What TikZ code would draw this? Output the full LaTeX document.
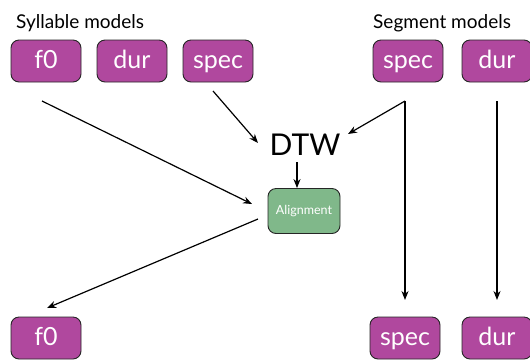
\documentclass[tikz,border=0pt]{standalone}
\usepackage{fontspec}
\setmainfont{Lato}
\usetikzlibrary{arrows.meta}
\definecolor{boxpurple}{RGB}{176,72,158}
\definecolor{boxgreen}{RGB}{128,184,138}
\tikzset{
  x=1pt,y=-1pt,
  mbox/.style={draw=black!85, line width=0.9pt, fill=boxpurple, rounded corners=8pt,
    minimum width=70pt, minimum height=42pt, inner sep=0pt, text=white,
    text height=18pt, text depth=4pt,
    font=\fontsize{25}{25}\selectfont},
  abox/.style={draw=black!85, line width=0.9pt, fill=boxgreen, rounded corners=8pt,
    minimum width=72pt, minimum height=45pt, inner sep=0pt, text=white,
    font=\fontsize{12.5}{12.5}\selectfont},
  title/.style={font=\fontsize{19}{19}\selectfont, inner sep=0pt, anchor=base west},
  arr/.style={-{Stealth[length=9pt,width=7pt]}, line width=1.2pt}
}
\begin{document}
\begin{tikzpicture}
\useasboundingbox (0,0) rectangle (530,360);
\node[title] (syl) at (16,28) {Syllable models};
\node[title] (seg) at (373,28) {Segment models};
\node[mbox] (f0a) at (46,61) {f0};
\node[mbox] (dura) at (132,61) {dur};
\node[mbox] (speca) at (218,61) {spec};
\node[mbox] (specb) at (408,61) {spec};
\node[mbox] (durb) at (497,61) {dur};
\node[font=\fontsize{30}{30}\selectfont, inner sep=0pt] (dtw) at (305,145) {DTW};
\node[abox] (align) at (304,211) {Alignment};
\node[mbox] (f0c) at (46,338) {f0};
\node[mbox] (specc) at (405,338) {spec};
\node[mbox] (durc) at (497,338) {dur};
\coordinate (sb) at (405,101);
\coordinate (db) at (497,101);
\draw[arr] (42,101) -- (252,204);
\draw[arr] (213,91) -- (258,143);
\draw[arr] (sb) -- (348,134);
\draw[arr] (sb) -- (specc.north |- 0,300);
\draw[arr] (db) -- (durc.north |- 0,300);
\draw[arr] (297,162) -- (align.north -| 297,0);
\draw[arr] (258,219) -- (47,308);
\end{tikzpicture}
\end{document}
